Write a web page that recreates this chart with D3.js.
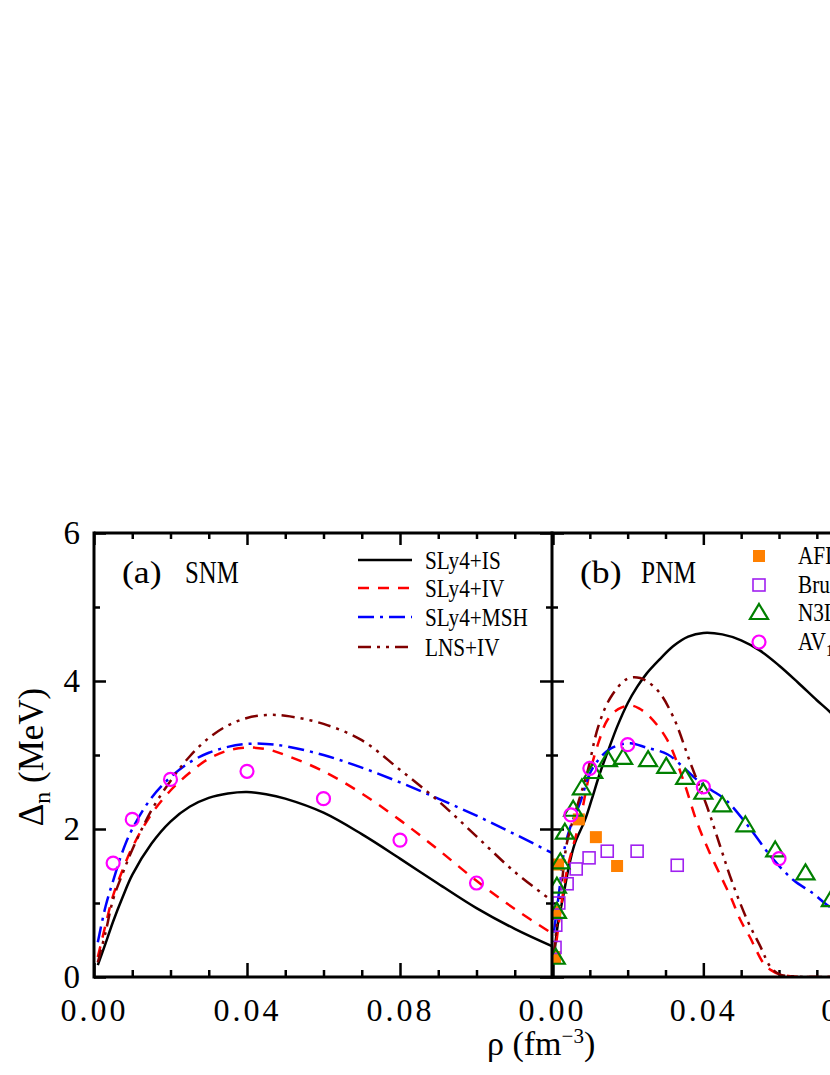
<!DOCTYPE html>
<html>
<head>
<meta charset="utf-8">
<script src="https://cdn.jsdelivr.net/npm/d3@7"></script>
<style>
  html, body { margin: 0; padding: 0; background: #fff; }
  svg { display: block; }
  text { font-family: "Liberation Serif", "Times New Roman", serif; fill: #000; }
</style>
</head>
<body>
<svg id="chart" width="830" height="1075"></svg>
<script>
// ---------------- DATA ----------------
// (a) SNM
const snmRho   = [0.001,0.003,0.005,0.0075,0.01,0.015,0.02,0.025,0.03,0.035,0.04,0.045,0.05,0.06,0.07,0.08,0.09,0.10,0.11,0.12];
const snmSLy4IS  = [0.16,0.45,0.75,1.08,1.38,1.8,2.1,2.3,2.42,2.48,2.5,2.47,2.41,2.22,1.93,1.6,1.26,0.93,0.65,0.41];
const snmSLy4IV  = [0.27,0.7,1.1,1.45,1.75,2.2,2.52,2.76,2.95,3.06,3.1,3.08,3.0,2.78,2.48,2.12,1.72,1.3,0.92,0.58];
const snmSLy4MSH = [0.47,0.95,1.3,1.7,2.0,2.42,2.7,2.9,3.03,3.11,3.15,3.15,3.12,3.0,2.83,2.63,2.41,2.18,1.93,1.67];
const snmLNSIV   = [0.2,0.6,1.05,1.4,1.72,2.25,2.65,2.98,3.23,3.4,3.5,3.54,3.53,3.42,3.2,2.8,2.38,1.9,1.42,1.02];
const snmAV18Rho = [0.005,0.01,0.02,0.04,0.06,0.08,0.10];
const snmAV18Val = [1.54,2.13,2.67,2.78,2.41,1.85,1.27];

// (b) PNM
const pnmSLy4ISRho  = [0.0005,0.0015,0.003,0.0045,0.006,0.0087,0.0105,0.0127,0.015,0.0172,0.02,0.0225,0.025,0.0286,0.032,0.036,0.04,0.045,0.05,0.055,0.06,0.065,0.07,0.0737,0.08];
const pnmSLy4ISVal  = [0.25,0.7,1.1,1.5,1.8,2.12,2.4,2.76,3.08,3.38,3.7,3.92,4.1,4.3,4.47,4.6,4.65,4.63,4.55,4.41,4.21,3.98,3.74,3.57,3.22];
const pnmSLy4IVRho  = [0.0005,0.002,0.004,0.0074,0.01,0.0125,0.0146,0.0175,0.0207,0.023,0.026,0.0305,0.0347,0.0384,0.0415,0.0451,0.0475,0.0498,0.0525,0.054,0.056,0.058,0.06,0.063,0.068,0.08];
const pnmSLy4IVVal  = [0.2,0.8,1.45,2.12,2.76,3.2,3.47,3.62,3.67,3.63,3.51,3.2,2.66,2.08,1.7,1.31,1.05,0.77,0.52,0.36,0.18,0.09,0.04,0.01,0.0,0.0];
const pnmSLy4MSHRho = [0.0005,0.002,0.0034,0.005,0.0074,0.01,0.0125,0.015,0.0175,0.0207,0.025,0.0305,0.035,0.0384,0.042,0.046,0.052,0.058,0.0638,0.069,0.0728,0.08];
const pnmSLy4MSHVal = [0.6,1.2,1.76,2.05,2.35,2.75,2.95,3.07,3.13,3.16,3.1,3.01,2.82,2.66,2.53,2.39,2.03,1.62,1.31,1.13,0.97,0.75];
const pnmLNSIVRho   = [0.0005,0.0018,0.0026,0.0039,0.006,0.0093,0.0122,0.0154,0.0199,0.0233,0.0278,0.032,0.0366,0.041,0.0445,0.0475,0.0516,0.0551,0.0577,0.06,0.063,0.068,0.08];
const pnmLNSIVVal   = [0.3,0.95,1.27,1.8,2.2,2.76,3.38,3.77,4.03,4.04,3.88,3.52,2.89,2.3,1.76,1.3,0.77,0.41,0.14,0.04,0.01,0.0,0.0];

const pnmAFDMCRho = [0.0008,0.0008,0.0016,0.0071,0.0116,0.0172];
const pnmAFDMCVal = [0.27,0.88,1.52,2.13,1.89,1.5];
const pnmBruRho   = [0.0008,0.001,0.0018,0.004,0.0064,0.0098,0.0146,0.0225,0.0331];
const pnmBruVal   = [0.4,0.7,1.0,1.26,1.46,1.61,1.7,1.7,1.51];
const pnmN3LORho  = [0.001,0.0013,0.0013,0.0022,0.0034,0.0056,0.0079,0.0109,0.0148,0.0188,0.0254,0.0302,0.0352,0.04,0.045,0.0511,0.059,0.067,0.0737];
const pnmN3LOVal  = [0.26,0.88,1.22,1.55,1.95,2.26,2.55,2.77,2.93,2.96,2.93,2.84,2.69,2.49,2.32,2.05,1.71,1.4,1.04];
const pnmAV18Rho  = [0.005,0.01,0.02,0.04,0.06];
const pnmAV18Val  = [2.19,2.82,3.14,2.57,1.6];

const yTicksMajor = [0,2,4,6];
const yTicksMinor = [1,3,5];
const xTicksMajor = [0,0.04,0.08,0.12];
const xTicksMinor = [0.01,0.02,0.03,0.05,0.06,0.07,0.09,0.10,0.11];
const xLabelsLeft  = [0,0.04,0.08];
const xLabelsRight = [0,0.04,0.08,0.12];

const legendA = ["SLy4+IS","SLy4+IV","SLy4+MSH","LNS+IV"];
const legendB = ["AFDMC","Brueckner","N3LO","AV"];

// ---------------- STYLES ----------------
const styles = {
  IS:  {color:"#000000", dash:null},
  IV:  {color:"#ff0000", dash:"11,9"},
  MSH: {color:"#0000ff", dash:"16,6,3,6"},
  LNS: {color:"#800000", dash:"13,6,3,6,3,6"}
};
const cMag = "#ff00ff", cOrange = "#ff8000", cPurple = "#a020f0", cGreen = "#008000";

// ---------------- SCALES ----------------
const svg = d3.select("#chart");
const yTop = 533, yBot = 977;
const y  = d3.scaleLinear().domain([0,6]).range([yBot, yTop]);
const xL = d3.scaleLinear().domain([0,0.12]).range([94, 553]);
const xR = d3.scaleLinear().domain([0,0.12]).range([552, 1006]);

const defs = svg.append("defs");
defs.append("clipPath").attr("id","clipL").append("rect")
  .attr("x",xL(0)).attr("y",yTop).attr("width",xL(0.12)-xL(0)).attr("height",yBot-yTop);
defs.append("clipPath").attr("id","clipR").append("rect")
  .attr("x",xR(0)).attr("y",yTop).attr("width",xR(0.12)-xR(0)).attr("height",yBot-yTop);

// ---------------- AXES ----------------
const axisG = svg.append("g");
const fmt = d3.format(".2f");
function styleAxis(sel){
  sel.select(".domain").remove();
  sel.selectAll(".tick line").attr("stroke","#000").attr("stroke-width",2.5);
}
function xAxes(x, labels){
  axisG.append("g").attr("transform",`translate(0,${yBot})`)
    .call(d3.axisBottom(x).tickValues(xTicksMajor).tickSize(-14).tickSizeOuter(0).tickPadding(21)
      .tickFormat(d => labels.includes(d) ? fmt(d) : ""))
    .call(styleAxis)
    .call(g => g.selectAll("text").attr("font-size",32).attr("letter-spacing","3px")
      .attr("font-family",'"Liberation Serif", serif').attr("fill","#000"));
  axisG.append("g").attr("transform",`translate(0,${yBot})`)
    .call(d3.axisBottom(x).tickValues(xTicksMinor).tickSize(-7).tickFormat(""))
    .call(styleAxis);
  axisG.append("g").attr("transform",`translate(0,${yTop})`)
    .call(d3.axisTop(x).tickValues(xTicksMajor).tickSize(-12).tickFormat(""))
    .call(styleAxis);
  axisG.append("g").attr("transform",`translate(0,${yTop})`)
    .call(d3.axisTop(x).tickValues(xTicksMinor).tickSize(-6).tickFormat(""))
    .call(styleAxis);
}
xAxes(xL, xLabelsLeft);
xAxes(xR, xLabelsRight);

axisG.append("g").attr("transform",`translate(${xL(0)},0)`)
  .call(d3.axisLeft(y).tickValues(yTicksMajor).tickSize(-12).tickPadding(14).tickFormat(d3.format("d")))
  .call(styleAxis)
  .call(g => g.selectAll("text").attr("font-size",33)
    .attr("font-family",'"Liberation Serif", serif').attr("fill","#000"));
axisG.append("g").attr("transform",`translate(${xL(0)},0)`)
  .call(d3.axisLeft(y).tickValues(yTicksMinor).tickSize(-6).tickFormat(""))
  .call(styleAxis);
axisG.append("g").attr("transform",`translate(${xR(0)},0)`)
  .call(d3.axisRight(y).tickValues(yTicksMajor).tickSize(-12).tickFormat(""))
  .call(styleAxis);
axisG.append("g").attr("transform",`translate(${xR(0)},0)`)
  .call(d3.axisRight(y).tickValues(yTicksMinor).tickSize(-6).tickFormat(""))
  .call(styleAxis);
axisG.append("g").attr("transform",`translate(${xR(0)},0)`)
  .call(d3.axisLeft(y).tickValues(yTicksMajor).tickSize(-12).tickFormat(""))
  .call(styleAxis);
axisG.append("g").attr("transform",`translate(${xR(0)},0)`)
  .call(d3.axisLeft(y).tickValues(yTicksMinor).tickSize(-6).tickFormat(""))
  .call(styleAxis);

// ---------------- CURVES ----------------
function drawCurve(x, xs, ys, st, clip){
  const pts = xs.map((r,i)=>[r, ys[i]]);
  const line = d3.line().x(d=>x(d[0])).y(d=>y(d[1])).curve(d3.curveCatmullRom.alpha(0.5));
  svg.append("path").datum(pts)
    .attr("clip-path", `url(#${clip})`)
    .attr("d", line).attr("fill","none")
    .attr("stroke", st.color).attr("stroke-width", 2.5)
    .attr("stroke-dasharray", st.dash);
}
drawCurve(xL, snmRho, snmSLy4IS,  styles.IS,  "clipL");
drawCurve(xL, snmRho, snmSLy4IV,  styles.IV,  "clipL");
drawCurve(xL, snmRho, snmSLy4MSH, styles.MSH, "clipL");
drawCurve(xL, snmRho, snmLNSIV,   styles.LNS, "clipL");

drawCurve(xR, pnmSLy4ISRho,  pnmSLy4ISVal,  styles.IS,  "clipR");
drawCurve(xR, pnmSLy4IVRho,  pnmSLy4IVVal,  styles.IV,  "clipR");
drawCurve(xR, pnmSLy4MSHRho, pnmSLy4MSHVal, styles.MSH, "clipR");
drawCurve(xR, pnmLNSIVRho,   pnmLNSIVVal,   styles.LNS, "clipR");

// ---------------- MARKERS ----------------
const triPath = "M0,-9 L9,6 L-9,6 Z";
function circles(g, x, xs, ys){
  g.selectAll(null).data(xs.map((r,i)=>[r,ys[i]])).join("circle")
    .attr("cx",d=>x(d[0])).attr("cy",d=>y(d[1])).attr("r",6.5)
    .attr("fill","none").attr("stroke",cMag).attr("stroke-width",2.2);
}
const mL = svg.append("g").attr("clip-path","url(#clipL)");
circles(mL, xL, snmAV18Rho, snmAV18Val);

const mR = svg.append("g").attr("clip-path","url(#clipR)");
mR.selectAll(null).data(pnmAFDMCRho.map((r,i)=>[r,pnmAFDMCVal[i]])).join("rect")
  .attr("x",d=>xR(d[0])-6).attr("y",d=>y(d[1])-6).attr("width",12).attr("height",12)
  .attr("fill",cOrange);
mR.selectAll(null).data(pnmBruRho.map((r,i)=>[r,pnmBruVal[i]])).join("rect")
  .attr("x",d=>xR(d[0])-6).attr("y",d=>y(d[1])-6).attr("width",12).attr("height",12)
  .attr("fill","none").attr("stroke",cPurple).attr("stroke-width",1.6);
mR.selectAll(null).data(pnmN3LORho.map((r,i)=>[r,pnmN3LOVal[i]])).join("path")
  .attr("transform",d=>`translate(${xR(d[0])},${y(d[1])})`).attr("d",triPath)
  .attr("fill","none").attr("stroke",cGreen).attr("stroke-width",2.2);
circles(mR, xR, pnmAV18Rho, pnmAV18Val);

// ---------------- FRAME ----------------
const frame = svg.append("g").attr("stroke","#000").attr("stroke-width",3).attr("fill","none");
frame.append("line").attr("x1",xL(0)).attr("x2",xR(0.12)).attr("y1",yTop).attr("y2",yTop);
frame.append("line").attr("x1",xL(0)).attr("x2",xR(0.12)).attr("y1",yBot).attr("y2",yBot);
frame.append("line").attr("x1",xL(0)).attr("x2",xL(0)).attr("y1",yTop-1.5).attr("y2",yBot+1.5);
frame.append("line").attr("x1",xR(0)).attr("x2",xR(0)).attr("y1",yTop-1.5).attr("y2",yBot+1.5);
frame.append("line").attr("x1",xR(0.12)).attr("x2",xR(0.12)).attr("y1",yTop-1.5).attr("y2",yBot+1.5);

// ---------------- PANEL LABELS ----------------
function condensedText(x, yv, size, sx, str){
  return svg.append("text").attr("transform",`translate(${x},${yv}) scale(${sx},1)`)
    .attr("font-size",size).text(str);
}
condensedText(122, 583, 31, 1.15, "(a)");
condensedText(185, 583, 31, 0.8, "SNM");
condensedText(580, 583, 31, 1.15, "(b)");
condensedText(641, 583, 31, 0.82, "PNM");

// ---------------- LEGEND (a) ----------------
const legAKeys = [styles.IS, styles.IV, styles.MSH, styles.LNS];
const legARows = [560, 588, 617, 647];
legAKeys.forEach((st,i)=>{
  svg.append("line").attr("x1",358).attr("x2",412).attr("y1",legARows[i]).attr("y2",legARows[i])
    .attr("stroke",st.color).attr("stroke-width",2.5).attr("stroke-dasharray",st.dash);
  condensedText(425, legARows[i]+9, 25, 0.85, legendA[i]);
});

// ---------------- LEGEND (b) ----------------
const legBRows = [556, 585, 613, 642];
const lx = 759;
svg.append("rect").attr("x",lx-6).attr("y",legBRows[0]-6).attr("width",12).attr("height",12).attr("fill",cOrange);
svg.append("rect").attr("x",lx-6).attr("y",legBRows[1]-6).attr("width",12).attr("height",12)
  .attr("fill","none").attr("stroke",cPurple).attr("stroke-width",1.6);
svg.append("path").attr("transform",`translate(${lx},${legBRows[2]})`).attr("d",triPath)
  .attr("fill","none").attr("stroke",cGreen).attr("stroke-width",2.2);
svg.append("circle").attr("cx",lx).attr("cy",legBRows[3]).attr("r",6.5)
  .attr("fill","none").attr("stroke",cMag).attr("stroke-width",2.2);
legendB.forEach((t,i)=>{
  const tx = condensedText(798, legBRows[i]+8, 25, 0.85, t);
  if (i === 3) tx.append("tspan").attr("font-size",17).attr("dy",6).text("18");
});

// ---------------- AXIS TITLES ----------------
const yt = svg.append("text").attr("transform","translate(43,757) rotate(-90)")
  .attr("text-anchor","middle").attr("font-size",35);
yt.append("tspan").text("Δ");
yt.append("tspan").attr("font-size",24).attr("dy",7).text("n");
yt.append("tspan").attr("dy",-7).text(" (MeV)");

const xt = svg.append("text").attr("x",487).attr("y",1055).attr("font-size",34);
xt.append("tspan").text("ρ (fm");
xt.append("tspan").attr("font-size",21).attr("dy",-12).text("−3");
xt.append("tspan").attr("dy",12).text(")");
</script>
</body>
</html>
